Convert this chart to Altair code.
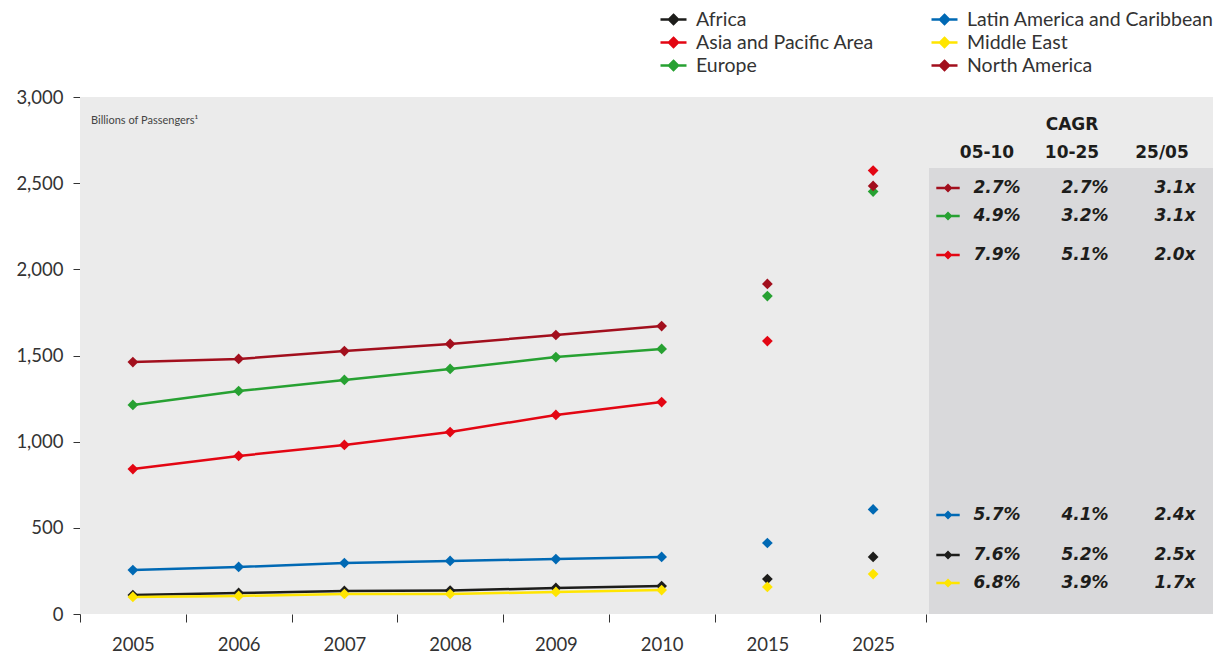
import altair as alt
import pandas as pd

# ---------------- data ----------------
years = ["2005", "2006", "2007", "2008", "2009", "2010", "2015", "2025"]
line_years = ["2005", "2006", "2007", "2008", "2009", "2010"]

africa = [110, 122, 134, 136, 151, 162, 203, 331]
asia_pacific = [841, 917, 981, 1056, 1155, 1230, 1584, 2573]
europe = [1213, 1294, 1358, 1422, 1491, 1538, 1845, 2451]
latin_america = [255, 273, 296, 308, 319, 331, 412, 607]
middle_east = [99, 105, 116, 116, 128, 139, 157, 232]
north_america = [1462, 1480, 1526, 1567, 1619, 1671, 1915, 2484]

region_names = ["Africa", "Asia and Pacific Area", "Europe",
                "Latin America and Caribbean", "Middle East", "North America"]
region_values = [africa, asia_pacific, europe, latin_america, middle_east, north_america]
region_colors = ["#1d1d1b", "#e30613", "#27a132", "#0069b4", "#ffe500", "#a20f1d"]

# CAGR table
cagr_title = "CAGR"
period_headers = ["05-10", "10-25", "25/05"]
cagr_regions = ["North America", "Europe", "Asia and Pacific Area",
                "Latin America and Caribbean", "Africa", "Middle East"]
cagr_05_10 = ["2.7%", "4.9%", "7.9%", "5.7%", "7.6%", "6.8%"]
cagr_10_25 = ["2.7%", "3.2%", "5.1%", "4.1%", "5.2%", "3.9%"]
ratio_25_05 = ["3.1x", "3.1x", "2.0x", "2.4x", "2.5x", "1.7x"]

y_axis_note = "Billions of Passengers\u00b9"

# ---------------- layout (pixels, relative to plot origin) ----------------
W, H = 846, 517
PANEL_RIGHT = 1133
TABLE_LEFT, TABLE_TOP = 849, 71
row_px = [91, 119, 158, 418, 458, 486]
value_col_px = [917, 1005, 1095]
header_col_px = [907, 992, 1082]
FONT = "Lato"
TFONT = "DejaVu Sans"

color_scale = alt.Scale(domain=region_names, range=region_colors)

rows = []
for name, vals in zip(region_names, region_values):
    for y, v in zip(years, vals):
        rows.append({"region": name, "year": y, "value": v})
df = pd.DataFrame(rows)
df_line = df[df["year"].isin(line_years)]

table_rows = []
for i, r in enumerate(cagr_regions):
    table_rows.append({"region": r, "c1": cagr_05_10[i], "c2": cagr_10_25[i],
                       "c3": ratio_25_05[i], "py": row_px[i]})
df_table = pd.DataFrame(table_rows)

df_head = pd.DataFrame({"label": period_headers, "px": header_col_px})

SYMBOL = "M-1.3,0L1.3,0M0,-0.45L0.45,0L0,0.45L-0.45,0Z"
SYMBOL_FILLED = ("M-1.3,-0.13L1.3,-0.13L1.3,0.13L-1.3,0.13Z "
                 "M0,-0.5L0.5,0L0,0.5L-0.5,0Z")

x_enc = alt.X("year:O",
              scale=alt.Scale(type="band", domain=years, paddingInner=0, paddingOuter=0),
              axis=alt.Axis(title=None, tickBand="extent", domain=False, tickSize=8,
                            tickColor="#333", tickWidth=1, labelFont=FONT, labelFontSize=18.5,
                            labelColor="#333", labelPadding=13, labelAngle=0, grid=False))
y_enc = alt.Y("value:Q",
              scale=alt.Scale(domain=[0, 3000], nice=False, zero=True),
              axis=alt.Axis(title=None, values=[0, 500, 1000, 1500, 2000, 2500, 3000],
                            format=",.0f", domain=False, tickSize=7, tickColor="#333",
                            labelFont=FONT, labelFontSize=18.5, labelColor="#333",
                            labelPadding=10, grid=False))

bg = alt.Chart(alt.Data(values=[{}])).mark_rect(color="#ebebeb").encode(
    x=alt.value(0), x2=alt.value(PANEL_RIGHT), y=alt.value(0), y2=alt.value(H))
bg_table = alt.Chart(alt.Data(values=[{}])).mark_rect(color="#d9d9db").encode(
    x=alt.value(TABLE_LEFT), x2=alt.value(PANEL_RIGHT), y=alt.value(TABLE_TOP), y2=alt.value(H))

lines = alt.Chart(df_line).mark_line(strokeWidth=2.5).encode(
    x=x_enc, y=y_enc,
    stroke=alt.Stroke("region:N", scale=color_scale,
                      legend=alt.Legend(title=None, orient="none", legendX=582, legendY=-89,
                                        columns=2, columnPadding=52, labelLimit=400,
                                        symbolType=SYMBOL, symbolSize=400, symbolStrokeWidth=2.5,
                                        labelFont=FONT, labelFontSize=19.5, labelColor="#333",
                                        labelOffset=11, rowPadding=2)),
    detail="region:N")

points = alt.Chart(df).mark_point(shape="diamond", filled=True, size=115, opacity=1).encode(
    x=x_enc, y=y_enc,
    fill=alt.Fill("region:N", scale=color_scale, legend=None))

note = alt.Chart(alt.Data(values=[{"t": y_axis_note}])).mark_text(
    align="left", baseline="middle", font=FONT, fontSize=11, color="#444").encode(
    x=alt.value(11), y=alt.value(24), text="t:N")

title_txt = alt.Chart(alt.Data(values=[{"t": cagr_title}])).mark_text(
    align="center", baseline="middle", font=TFONT, fontSize=17, fontWeight="bold",
    color="#1d1d1b").encode(x=alt.value(992), y=alt.value(28), text="t:N")

head_txt = alt.Chart(df_head).mark_text(
    align="center", baseline="middle", font=TFONT, fontSize=17, fontWeight="bold",
    color="#1d1d1b").encode(x=alt.X("px:Q", scale=None), y=alt.value(56), text="label:N")

def table_col(field, px):
    return alt.Chart(df_table).mark_text(
        align="center", baseline="middle", font=TFONT, fontSize=17, fontWeight="bold",
        fontStyle="italic", color="#1d1d1b").encode(
        x=alt.value(px), y=alt.Y("py:Q", scale=None), text=f"{field}:N")

table_syms = alt.Chart(df_table).mark_point(shape=SYMBOL_FILLED, filled=True, size=324, opacity=1).encode(
    x=alt.value(868), y=alt.Y("py:Q", scale=None),
    color=alt.Color("region:N", scale=color_scale, legend=None))

chart = alt.layer(
    bg, bg_table, lines, points, note, title_txt, head_txt,
    table_col("c1", value_col_px[0]), table_col("c2", value_col_px[1]),
    table_col("c3", value_col_px[2]), table_syms
).properties(
    width=W, height=H,
    autosize=alt.AutoSizeParams(type="none"),
    padding={"left": 80, "top": 97, "right": 304, "bottom": 43},
    background="white",
).configure_view(stroke=None)

chart.save("out.html", embed_options={"renderer": "svg", "actions": False})
